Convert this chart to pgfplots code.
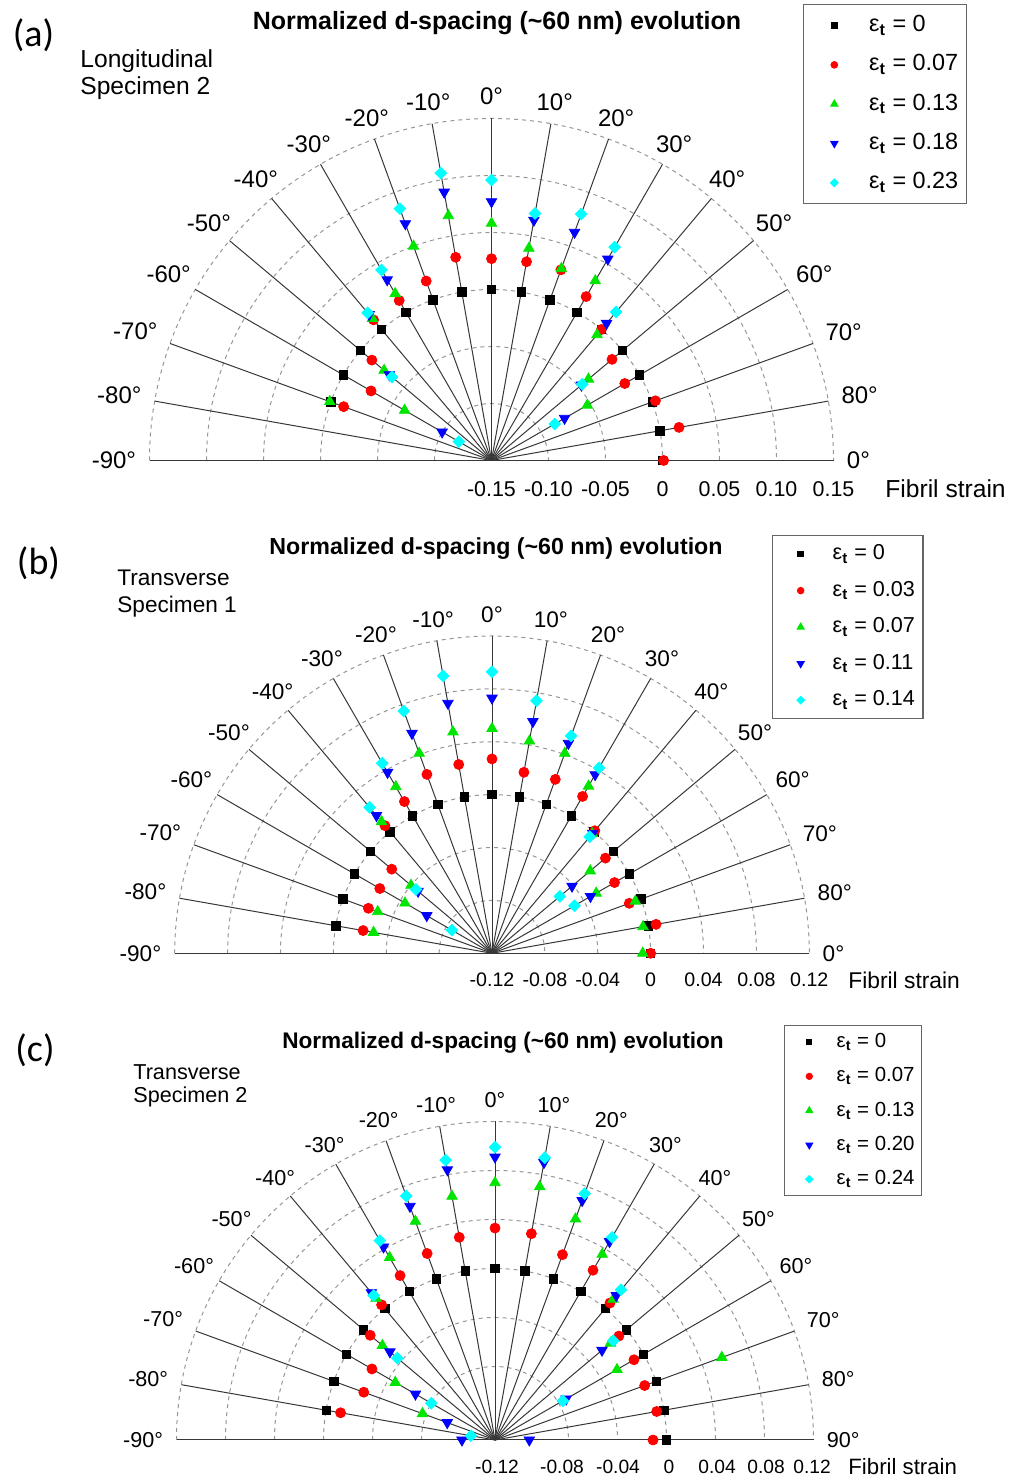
\documentclass[border=0pt]{standalone}
\usepackage{fontspec}
\setmainfont{Liberation Sans}
\newfontfamily\calib{Carlito}
\usepackage{pgfplots}
\usepackage{pgfplotstable}
\pgfplotsset{compat=1.18}

\definecolor{mgreen}{RGB}{0,230,0}
\definecolor{mcyan}{RGB}{0,255,255}
\definecolor{mblue}{RGB}{0,0,255}
\definecolor{mred}{RGB}{255,0,0}
\definecolor{spk}{RGB}{55,55,55}
\definecolor{dgrid}{RGB}{150,150,150}

\pgfplotstableread{
ang s0 s1 s2 s3 s4
-70 0 -0.012 0.001 nan nan
-60 0 -0.028 -0.062 -0.100 -0.117
-50 0 -0.013 -0.027 -0.033 -0.036
-40 0 0.011 0.0125 0.017 0.019
-30 0 0.012 0.019 0.033 0.043
-20 0 0.0175 0.050 0.071 0.085
-10 0 0.031 0.068 0.089 0.106
0 0 0.027 0.058 0.077 0.096
10 0 0.027 0.039 0.064 0.070
20 0 0.028 0.029 0.063 0.080
30 0 0.016 0.032 0.054 0.066
40 0 0.000 -0.006 0.007 0.020
50 0 -0.012 -0.039 -0.047 -0.046
60 0 -0.015 -0.053 -0.076 -0.086
70 0 0.003 nan nan nan
80 0 0.017 nan nan nan
90 0 0.001 nan nan nan
}\dataA

\pgfplotstableread{
ang s0 s1 s2 s3 s4
-80 0 -0.021 -0.029 nan nan
-70 0 -0.0205 -0.028 nan nan
-60 0 -0.022 -0.044 -0.063 -0.085
-50 0 -0.021 -0.040 -0.047 -0.045
-40 0 0.006 0.010 0.016 0.024
-30 0 0.0125 0.0255 0.038 0.046
-20 0 0.024 0.041 0.057 0.075
-10 0 0.025 0.050 0.072 0.093
0 0 0.027 0.050 0.073 0.093
10 0 0.019 0.043 0.058 0.074
20 0 0.020 0.041 0.049 0.055
30 0 0.017 0.026 0.036 0.042
40 0 0.001 -0.002 -0.0015 -0.005
50 0 -0.008 -0.023 -0.041 -0.053
60 0 -0.013 -0.029 -0.034 -0.048
70 0 -0.0095 -0.0046 nan nan
80 0 0.006 -0.004 nan nan
90 0 0.000 -0.006 nan nan
}\dataB

\pgfplotstableread{
ang s0 s1 s2 s3 s4
-90 nan nan nan -0.113 nan
-80 0 -0.012 nan nan -0.120
-70 0 -0.026 -0.077 -0.0985 nan
-60 0 -0.024 -0.046 -0.065 -0.080
-50 0 -0.007 -0.020 -0.028 -0.036
-40 0 0.004 0.011 0.017 0.014
-30 0 0.015 0.032 0.042 0.048
-20 0 0.022 0.050 0.063 0.072
-10 0 0.028 0.062 0.084 0.092
0 0 0.033 0.070 0.091 0.099
10 0 0.031 0.070 0.090 0.094
20 0 0.021 0.052 0.068 0.074
30 0 0.020 0.035 0.047 0.051
40 0 0.006 0.010 0.014 0.020
50 0 -0.008 -0.017 -0.026 -0.014
60 0 -0.009 -0.025 -0.073 -0.076
70 0 -0.010 0.057 nan nan
80 0 -0.006 nan nan nan
90 0 -0.011 nan -0.112 nan
}\dataC

\pgfplotstableset{
 polA/.style={x expr={491.5+1140*(\thisrow{#1}+0.15)*sin(\thisrow{ang})}, y expr={1020.5+1140*(\thisrow{#1}+0.15)*cos(\thisrow{ang})}},
 polB/.style={x expr={492+1322*(\thisrow{#1}+0.12)*sin(\thisrow{ang})}, y expr={527.7+1322*(\thisrow{#1}+0.12)*cos(\thisrow{ang})}},
 polC/.style={x expr={495+1225*(\thisrow{#1}+0.14)*sin(\thisrow{ang})}, y expr={41+1225*(\thisrow{#1}+0.14)*cos(\thisrow{ang})}},
}

\pgfplotsset{
 m0/.style={only marks, mark=square*, color=black, mark size=2.1pt},
 m1/.style={only marks, mark=*, color=mred, mark size=2.5pt},
 m2/.style={only marks, mark=triangle*, color=mgreen, mark size=3pt},
 m3/.style={only marks, mark=triangle*, color=mblue, mark size=3pt, mark options={rotate=180}},
 m4/.style={only marks, mark=square*, color=mcyan, mark size=2.05pt, mark options={rotate=45}},
 pageaxis/.style={x=0.5pt, y=0.5pt, xmin=0, xmax=1012, ymin=0, ymax=1481, hide axis, clip=false,
   at={(0pt,0pt)}, anchor=south west, legend cell align=left},
}

\newcommand\polgrid[6]{%
 \foreach \rr in {#4}{\draw[dgrid, dash pattern=on 2pt off 2pt, line width=0.5pt] (#1,#2) ++(-\rr pt,0pt) arc[start angle=180,end angle=0,radius=\rr pt];}
 \foreach \dd in {-80,-70,...,80}{\draw[spk, line width=0.5pt] (#1,#2) -- ++({90-\dd}:#3pt);}
 \draw[spk, line width=0.5pt] (#1,#2) ++(-#3pt,0pt) -- ++(2*#3pt,0pt);
 \foreach \dd in {-90,-80,...,80}{\pgfmathsetmacro\an{90-\dd}\pgfmathsetmacro\anc{270-\dd}%
   \path (#1,#2) ++(\an:#3pt+6.5pt) node[anchor=\anc, inner sep=0pt, font=#5] {\dd{}°};}
 \path (#1,#2) ++(0:#3pt+6.5pt) node[anchor=west, inner sep=0pt, font=#5] {#6};
}

\begin{document}
\begin{tikzpicture}
\useasboundingbox (0pt,0pt) rectangle (506pt,740.5pt);
\begin{scope}[x=0.5pt,y=-0.5pt,shift={(0pt,740.5pt)}]
 % ---------- panel (a)
 \polgrid{491.5}{460.5}{171}{28.5,57,85.5,114,142.5,171}{\fontsize{12}{14}\selectfont}{0°}
 \node[font=\bfseries\fontsize{12.5}{14}\selectfont] at (497,23) {Normalized d-spacing (\textasciitilde 60 nm) evolution};
 \node[font=\calib\fontsize{19}{22}\selectfont] at (33.5,35.5) {(a)};
 \node[anchor=base west, inner sep=0pt, font=\fontsize{12.3}{14}\selectfont] at (80,67.7) {Longitudinal};
 \node[anchor=base west, inner sep=0pt, font=\fontsize{12.3}{14}\selectfont] at (80,95) {Specimen 2};
 \begin{scope}[every node/.style={font=\fontsize{10.7}{13}\selectfont, inner sep=0pt}]
  \node at (491.5,489) {-0.15}; \node at (548.5,489) {-0.10}; \node at (605.5,489) {-0.05};
  \node at (662.5,489) {0}; \node at (719.5,489) {0.05}; \node at (776.5,489) {0.10}; \node at (833.5,489) {0.15};
 \end{scope}
 \node[anchor=west, inner sep=0pt, font=\fontsize{12.3}{14}\selectfont] at (885,489) {Fibril strain};
 % ---------- panel (b)
 \polgrid{492}{953.3}{158.65}{26.44,52.88,79.32,105.76,132.2,158.65}{\fontsize{11.3}{13}\selectfont}{0°}
 \node[font=\bfseries\fontsize{11.6}{13}\selectfont] at (496,549) {Normalized d-spacing (\textasciitilde 60 nm) evolution};
 \node[font=\calib\fontsize{19}{22}\selectfont] at (38.5,563) {(b)};
 \node[anchor=base west, inner sep=0pt, font=\fontsize{11.3}{13}\selectfont] at (117,586) {Transverse};
 \node[anchor=base west, inner sep=0pt, font=\fontsize{11.3}{13}\selectfont] at (117,613) {Specimen 1};
 \begin{scope}[every node/.style={font=\fontsize{9.8}{12}\selectfont, inner sep=0pt}]
  \node at (492,980) {-0.12}; \node at (544.9,980) {-0.08}; \node at (597.8,980) {-0.04};
  \node at (650.6,980) {0}; \node at (703.5,980) {0.04}; \node at (756.4,980) {0.08}; \node at (809.3,980) {0.12};
 \end{scope}
 \node[anchor=west, inner sep=0pt, font=\fontsize{11.4}{13}\selectfont] at (848,980) {Fibril strain};
 % ---------- panel (c)
 \polgrid{495}{1440}{159.25}{36.75,61.25,85.75,110.25,134.75,159.25}{\fontsize{10.8}{12.5}\selectfont}{90°}
 \node[font=\bfseries\fontsize{11.3}{13}\selectfont] at (503,1043) {Normalized d-spacing (\textasciitilde 60 nm) evolution};
 \node[font=\calib\fontsize{19}{22}\selectfont] at (35,1050) {(c)};
 \node[anchor=base west, inner sep=0pt, font=\fontsize{10.8}{12.5}\selectfont] at (133,1080) {Transverse};
 \node[anchor=base west, inner sep=0pt, font=\fontsize{10.8}{12.5}\selectfont] at (133,1103) {Specimen 2};
 \begin{scope}[every node/.style={font=\fontsize{9.6}{12}\selectfont, inner sep=0pt}]
  \node at (497,1467) {-0.12}; \node at (562,1467) {-0.08}; \node at (618,1467) {-0.04};
  \node at (669,1467) {0}; \node at (717,1467) {0.04}; \node at (766,1467) {0.08}; \node at (812,1467) {0.12};
 \end{scope}
 \node[anchor=west, inner sep=0pt, font=\fontsize{11.1}{13}\selectfont] at (848,1467) {Fibril strain};
\end{scope}

% ---------- data (a)
\begin{axis}[pageaxis,
  legend style={at={(0.7935,0.9973)}, anchor=north west, draw=black!60, line width=0.7pt, fill=white,
    inner xsep=4pt, inner ysep=4.45pt, row sep=7.65pt, column sep=6.1pt,
    font=\fontsize{11.7}{13}\selectfont, nodes={inner sep=0pt, text height=9pt, text depth=3pt}},
  legend image code/.code={\path[draw=none] (0pt,0pt) -- (22.6pt,0pt); \draw[#1,/tikz/every mark/.append style={scale=0.62}] plot coordinates {(11.3pt,0pt)};}]
 \addplot[m0] table[polA=s0] {\dataA}; \addlegendentry{ε\textsubscript{\textbf{t}} = 0}
 \addplot[m1] table[polA=s1] {\dataA}; \addlegendentry{ε\textsubscript{\textbf{t}} = 0.07}
 \addplot[m2] table[polA=s2] {\dataA}; \addlegendentry{ε\textsubscript{\textbf{t}} = 0.13}
 \addplot[m3] table[polA=s3] {\dataA}; \addlegendentry{ε\textsubscript{\textbf{t}} = 0.18}
 \addplot[m4] table[polA=s4] {\dataA}; \addlegendentry{ε\textsubscript{\textbf{t}} = 0.23}
\end{axis}
% ---------- data (b)
\begin{axis}[pageaxis,
  legend style={at={(0.7628,0.6388)}, anchor=north west, draw=black!60, line width=0.7pt, fill=white,
    inner xsep=4pt, inner ysep=3.6pt, row sep=6.95pt, column sep=6pt,
    font=\fontsize{10.8}{12}\selectfont, nodes={inner sep=0pt, text height=8.5pt, text depth=2.8pt}},
  legend image code/.code={\path[draw=none] (0pt,0pt) -- (20pt,0pt); \draw[#1,/tikz/every mark/.append style={scale=0.6}] plot coordinates {(10pt,0pt)};}]
 \addplot[m0] table[polB=s0] {\dataB}; \addlegendentry{ε\textsubscript{\textbf{t}} = 0}
 \addplot[m1] table[polB=s1] {\dataB}; \addlegendentry{ε\textsubscript{\textbf{t}} = 0.03}
 \addplot[m2] table[polB=s2] {\dataB}; \addlegendentry{ε\textsubscript{\textbf{t}} = 0.07}
 \addplot[m3] table[polB=s3] {\dataB}; \addlegendentry{ε\textsubscript{\textbf{t}} = 0.11}
 \addplot[m4] table[polB=s4] {\dataB}; \addlegendentry{ε\textsubscript{\textbf{t}} = 0.14}
\end{axis}
% ---------- data (c)
\begin{axis}[pageaxis,
  legend style={at={(0.7747,0.3079)}, anchor=north west, draw=black!60, line width=0.7pt, fill=white,
    inner xsep=3.5pt, inner ysep=2.9pt, row sep=6.55pt, column sep=4.9pt,
    font=\fontsize{10.2}{12}\selectfont, nodes={inner sep=0pt, text height=8pt, text depth=2.6pt}},
  legend image code/.code={\path[draw=none] (0pt,0pt) -- (17.6pt,0pt); \draw[#1,/tikz/every mark/.append style={scale=0.58}] plot coordinates {(8.8pt,0pt)};}]
 \addplot[m0] table[polC=s0] {\dataC}; \addlegendentry{ε\textsubscript{\textbf{t}} = 0}
 \addplot[m1] table[polC=s1] {\dataC}; \addlegendentry{ε\textsubscript{\textbf{t}} = 0.07}
 \addplot[m2] table[polC=s2] {\dataC}; \addlegendentry{ε\textsubscript{\textbf{t}} = 0.13}
 \addplot[m3] table[polC=s3] {\dataC}; \addlegendentry{ε\textsubscript{\textbf{t}} = 0.20}
 \addplot[m4] table[polC=s4] {\dataC}; \addlegendentry{ε\textsubscript{\textbf{t}} = 0.24}
\end{axis}
\end{tikzpicture}
\end{document}
